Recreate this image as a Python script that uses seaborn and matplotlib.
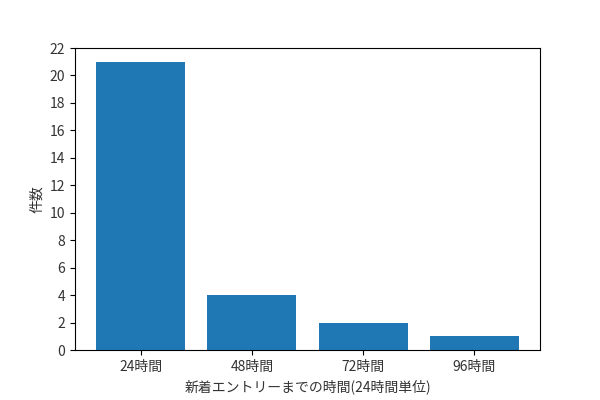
import matplotlib
matplotlib.use('Agg')
import matplotlib.pyplot as plt
import seaborn as sns
import pandas as pd

plt.rcParams['font.family'] = ['Noto Sans CJK JP', 'DejaVu Sans']

# 新着エントリーまでの時間ごとの件数
categories = ['24時間', '48時間', '72時間', '96時間']
counts = [21, 4, 2, 1]

df = pd.DataFrame({'時間': categories, '件数': counts})

fig = plt.figure(figsize=(6, 4), dpi=100)
ax = fig.add_axes([0.125, 0.125, 0.775, 0.755])
sns.barplot(data=df, x='時間', y='件数', color='#1f77b4', saturation=1,
            width=0.8, ax=ax)

ax.set_xlim(-0.59, 3.59)
ax.set_ylim(0, 22)
ax.set_yticks(range(0, 23, 2))
ax.set_xlabel('新着エントリーまでの時間(24時間単位)', fontsize=10, color='#333333')
ax.set_ylabel('件数', fontsize=10, color='#333333')
ax.tick_params(labelsize=10, labelcolor='#333333')

fig.savefig('out.png', dpi=100)
